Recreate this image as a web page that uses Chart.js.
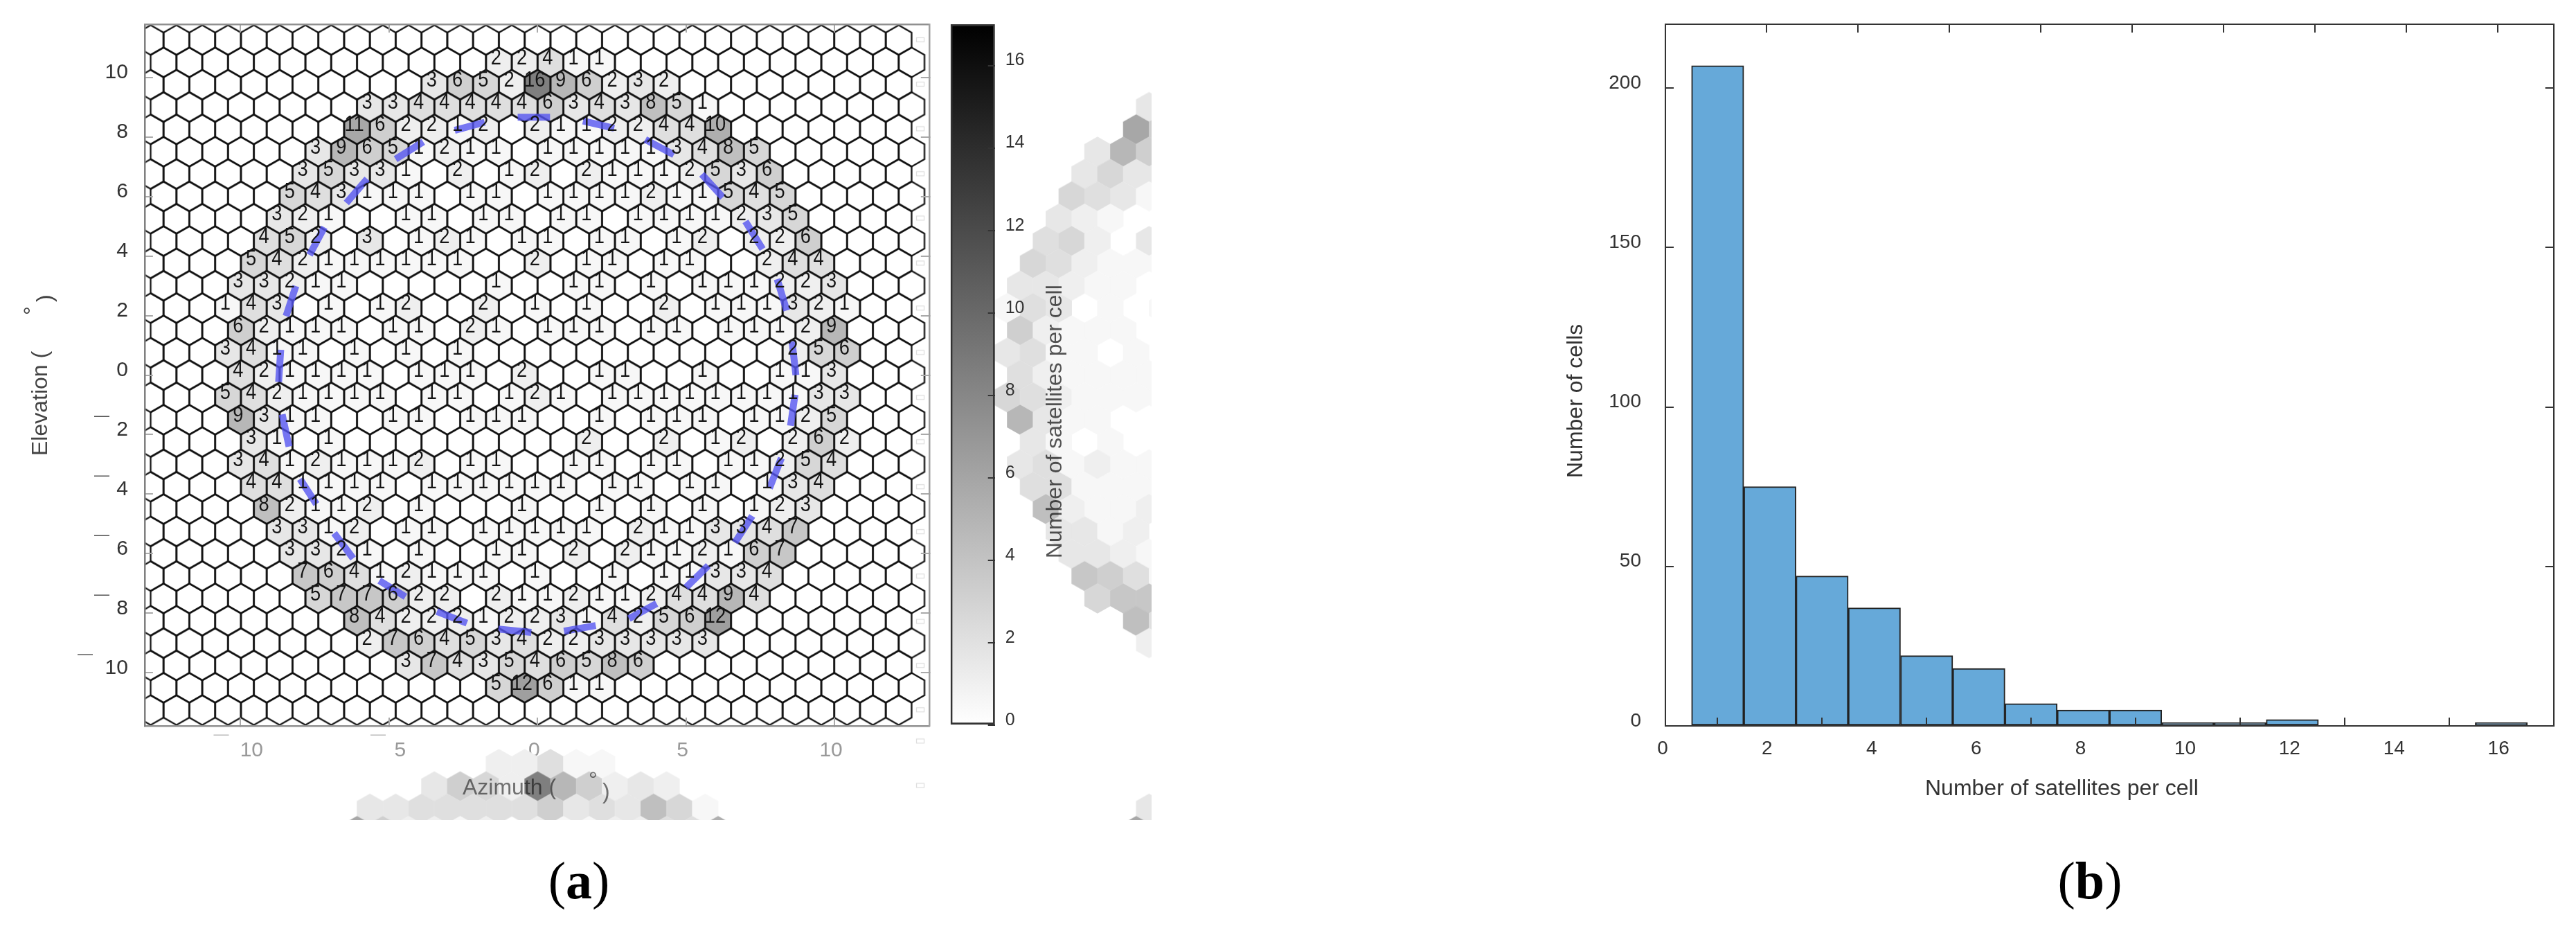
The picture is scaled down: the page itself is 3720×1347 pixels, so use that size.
<!DOCTYPE html>
<html>
<head>
<meta charset="utf-8">
<title>Satellites per cell</title>
<script src="https://cdn.jsdelivr.net/npm/chart.js@4"></script>
<style>
    html, body { margin: 0; background: #fff; }
    #page { position: relative; width: 3720px; height: 1347px; overflow: hidden; background: #fff; }
    canvas { position: absolute; }
    .panel { position: absolute; top: 1228px; font: 76px "Liberation Serif", serif; color: #000; width: 200px; text-align: center; }
</style>
</head>
<body>
<div id="page">
    <canvas id="hexChart" width="1663" height="1184" style="left:0;top:0"></canvas>
    <canvas id="barChart" width="323" height="1184" style="left:1340px;top:0"></canvas>
    <canvas id="histChart" width="1480" height="1200" style="left:2240px;top:0"></canvas>
    <div class="panel" style="left:736px">(<b>a</b>)</div>
    <div class="panel" style="left:2918px">(<b>b</b>)</div>
</div>
<script>
// ─── Data: hex map (a) ───
// one entry per occupied row, top to bottom: elevation, first column, cell counts
const rowElevations = [10.5, 9.75, 9, 8.25, 7.5, 6.75, 6, 5.25, 4.5, 3.75, 3, 2.25, 1.5, 0.75, 0, -0.75, -1.5, -2.25, -3, -3.75, -4.5, -5.25, -6, -6.75, -7.5, -8.25, -9, -9.75, -10.5];
const rowFirstCols = [-1.5, -4, -6.5, -7, -8.5, -9, -9.5, -10, -10.5, -11, -11.5, -12, -11.5, -12, -11.5, -12, -11.5, -11, -11.5, -11, -10.5, -10, -9.5, -9, -8.5, -7, -6.5, -5, -1.5];
const rowCounts = [
    [2, 2, 4, 1, 1],
    [3, 6, 5, 2, 16, 9, 6, 2, 3, 2],
    [3, 3, 4, 4, 4, 4, 4, 6, 3, 4, 3, 8, 5, 1],
    [11, 6, 2, 2, 1, 2, 0, 2, 1, 1, 2, 2, 4, 4, 10],
    [3, 9, 6, 5, 1, 2, 1, 1, 0, 1, 1, 1, 1, 1, 3, 4, 8, 5],
    [3, 5, 3, 3, 1, 0, 2, 0, 1, 2, 0, 2, 1, 1, 1, 2, 5, 3, 6],
    [5, 4, 3, 1, 1, 1, 0, 1, 1, 0, 1, 1, 1, 1, 2, 1, 1, 5, 4, 5],
    [3, 2, 1, 0, 0, 1, 1, 0, 1, 1, 0, 1, 1, 0, 1, 1, 1, 1, 2, 3, 5],
    [4, 5, 2, 0, 3, 0, 1, 2, 1, 0, 1, 1, 0, 1, 1, 0, 1, 2, 0, 2, 2, 6],
    [5, 4, 2, 1, 1, 1, 1, 1, 1, 0, 0, 2, 0, 1, 1, 0, 1, 1, 0, 0, 2, 4, 4],
    [3, 3, 2, 1, 1, 0, 0, 0, 0, 0, 1, 0, 0, 1, 1, 0, 1, 0, 1, 1, 1, 2, 2, 3],
    [1, 4, 3, 0, 1, 0, 1, 2, 0, 0, 2, 0, 1, 0, 1, 0, 0, 2, 0, 1, 1, 1, 3, 2, 1],
    [6, 2, 1, 1, 1, 0, 1, 1, 0, 2, 1, 0, 1, 1, 1, 0, 1, 1, 0, 1, 1, 1, 2, 9],
    [3, 4, 1, 1, 0, 1, 0, 1, 0, 1, 0, 0, 0, 0, 0, 0, 0, 0, 0, 0, 0, 0, 2, 5, 6],
    [4, 2, 1, 1, 1, 1, 0, 1, 1, 1, 0, 2, 0, 0, 1, 1, 0, 0, 1, 0, 0, 1, 1, 3],
    [5, 4, 2, 1, 1, 1, 1, 0, 1, 1, 0, 1, 2, 1, 0, 1, 1, 1, 1, 1, 1, 1, 1, 3, 3],
    [9, 3, 1, 1, 0, 0, 1, 1, 0, 1, 1, 1, 0, 0, 1, 0, 1, 1, 1, 0, 1, 1, 2, 5],
    [3, 1, 0, 1, 0, 0, 0, 0, 0, 0, 0, 0, 0, 2, 0, 0, 2, 0, 1, 2, 0, 2, 6, 2],
    [3, 4, 1, 2, 1, 1, 1, 2, 0, 1, 1, 0, 0, 1, 1, 0, 1, 1, 0, 1, 1, 2, 5, 4],
    [4, 4, 1, 1, 1, 1, 0, 1, 1, 1, 1, 1, 1, 0, 1, 1, 0, 1, 1, 0, 1, 3, 4],
    [8, 2, 1, 1, 2, 0, 1, 0, 0, 0, 1, 0, 0, 1, 0, 1, 0, 1, 0, 1, 2, 3],
    [3, 3, 1, 2, 0, 1, 1, 0, 1, 1, 1, 1, 1, 0, 2, 1, 1, 3, 3, 4, 7],
    [3, 3, 2, 1, 0, 1, 0, 0, 1, 1, 0, 2, 0, 2, 1, 1, 2, 1, 6, 7],
    [7, 6, 4, 1, 2, 1, 1, 1, 0, 1, 0, 0, 1, 0, 1, 1, 3, 3, 4],
    [5, 7, 7, 6, 2, 2, 0, 2, 1, 1, 2, 1, 1, 2, 4, 4, 9, 4],
    [8, 4, 2, 2, 2, 1, 2, 2, 3, 1, 4, 2, 5, 6, 12],
    [2, 7, 6, 4, 5, 3, 4, 2, 2, 3, 3, 3, 3, 3],
    [3, 7, 4, 3, 5, 4, 6, 5, 8, 6],
    [5, 12, 6, 1, 1],
];

// dashed ring, azimuth / elevation of each dash end, NaN breaks the line
const dashAzimuth = [-2.79, -1.78, NaN, -0.67, 0.42, NaN, 1.53, 2.58, NaN, 3.63, 4.59, NaN, 5.53, 6.24, NaN, 7.0, 7.58, NaN, 8.07, 8.39, NaN, 8.57, 8.70, NaN, 8.67, 8.52, NaN, 8.21, 7.81, NaN, 7.23, 6.65, NaN, 5.75, 5.0, NaN, 4.01, 3.08, NaN, 1.96, 0.89, NaN, -0.21, -1.32, NaN, -2.38, -3.39, NaN, -4.45, -5.33, NaN, -6.21, -6.85, NaN, -7.45, -8.0, NaN, -8.37, -8.60, NaN, -8.72, -8.65, NaN, -8.47, -8.14, NaN, -7.68, -7.18, NaN, -6.44, -5.74, NaN, -4.78, -3.85];
const dashElevation = [8.22, 8.49, NaN, 8.66, 8.66, NaN, 8.53, 8.29, NaN, 7.91, 7.40, NaN, 6.74, 5.97, NaN, 5.16, 4.23, NaN, 3.22, 2.17, NaN, 1.13, 0, NaN, -0.66, -1.70, NaN, -2.79, -3.80, NaN, -4.73, -5.62, NaN, -6.40, -7.13, NaN, -7.67, -8.18, NaN, -8.41, -8.60, NaN, -8.64, -8.53, NaN, -8.33, -7.94, NaN, -7.44, -6.90, NaN, -6.16, -5.31, NaN, -4.33, -3.49, NaN, -2.40, -1.32, NaN, -0.23, 0.85, NaN, 1.98, 2.99, NaN, 4.03, 4.96, NaN, 5.78, 6.59, NaN, 7.25, 7.83];

const azimuthTicks = [-10, -5, 0, 5, 10];
const elevationTicks = [-10, -8, -6, -4, -2, 0, 2, 4, 6, 8, 10];
const colorbarTicks = [0, 2, 4, 6, 8, 10, 12, 14, 16];
const colorbarMax = [17];
// stray light boxes down the right side of the map
const boxElevations = [11.26, 9.77, 8.27, 6.76, 5.27, 3.76, 2.25, 0.76, -0.75, -2.24, -3.75, -5.26, -6.75, -8.27, -9.75, -11.24, -12.29, -13.78];

// ─── Data: histogram (b) ───
const binCenters = [1, 2, 3, 4, 5, 6, 7, 8, 9, 10, 11, 12, 13, 14, 15, 16];
const binCounts = [207, 75, 47, 37, 22, 18, 7, 5, 5, 1, 1, 2, 0, 0, 0, 1];
const histXTicks = [2, 4, 6, 8, 10, 12, 14, 16];
const histYTicks = [0, 50, 100, 150, 200];

// ─── Hex grid ───
const COL_STEP = 0.8687;     // azimuth degrees between columns
const ROW_STEP = 0.75;       // elevation degrees between rows
const HEX_W = 37.25;         // px
const HEX_SIDE = 21.5;       // px
const GHOST_DX = 26.24;      // the map repeats once to the right and once below
const GHOST_DY = 23.56;

const cellValue = new Map();
rowElevations.forEach((el, r) => {
    rowCounts[r].forEach((v, i) => cellValue.set(el + '/' + (rowFirstCols[r] + i), v));
});

const allCells = [];
for (let k = 15; k >= -15; k--) {
    const odd = k % 2 !== 0;
    const first = odd ? -15 : -14.5;
    const last = odd ? 14 : 14.5;
    for (let c = first; c <= last; c++) {
        const el = k * ROW_STEP;
        allCells.push({ x: c * COL_STEP, y: el, v: cellValue.get(el + '/' + c) || 0 });
    }
}
const occupied = allCells.filter(c => c.v > 0);
const ghostCells = [];
[[GHOST_DX, 0], [0, -GHOST_DY], [GHOST_DX, -GHOST_DY]].forEach(([dx, dy]) => {
    occupied.forEach(c => ghostCells.push({ x: c.x + dx, y: c.y + dy, v: c.v }));
});

function hexPath(ctx, cx, cy, grow) {
    const hw = HEX_W / 2 + grow;
    const s = HEX_SIDE + grow;
    ctx.beginPath();
    ctx.moveTo(cx, cy - s);
    ctx.lineTo(cx + hw, cy - s / 2);
    ctx.lineTo(cx + hw, cy + s / 2);
    ctx.lineTo(cx, cy + s);
    ctx.lineTo(cx - hw, cy + s / 2);
    ctx.lineTo(cx - hw, cy - s / 2);
    ctx.closePath();
}

function hexImage(paint) {
    const img = document.createElement('canvas');
    img.width = 44;
    img.height = 50;
    paint(img.getContext('2d'));
    return img;
}

const grey = (v) => {
    const g = 255 - 8 * v;
    return `rgb(${g},${g},${g})`;
};
const fillImages = [];
for (let v = 0; v <= 17; v++) {
    fillImages.push(hexImage((c) => {
        hexPath(c, 22, 25, 0.3);
        c.fillStyle = grey(v);
        c.fill();
    }));
}
const outlineImage = hexImage((c) => {
    hexPath(c, 22, 25, 0);
    c.strokeStyle = '#111';
    c.lineWidth = 2.3;
    c.stroke();
});
const boxImage = (() => {
    const img = document.createElement('canvas');
    img.width = 14;
    img.height = 9;
    const c = img.getContext('2d');
    c.strokeStyle = '#ddd';
    c.lineWidth = 1.2;
    c.strokeRect(1.5, 1.5, 11, 6);
    return img;
})();

// ─── Shared helpers ───
Chart.defaults.font.family = '"Liberation Sans", Arial, sans-serif';
Chart.defaults.animation = false;
Chart.defaults.events = [];
Chart.defaults.devicePixelRatio = 1;
Chart.defaults.plugins.legend.display = false;
Chart.defaults.plugins.tooltip.enabled = false;

const tickList = (list) => (scale) => { scale.ticks = list.map(value => ({ value })); };

// force an axis box to a fixed size, so the plot area lands where it should
const fitBox = (size) => (scale) => {
    if (scale.isHorizontal()) scale.height = size;
    else scale.width = size;
    scale.paddingLeft = 0;
    scale.paddingRight = 0;
    scale.paddingTop = 0;
    scale.paddingBottom = 0;
};

function frameAxis(position, list, color, tickColor, tickLength, size) {
    return {
        type: 'linear',
        position,
        afterBuildTicks: tickList(list),
        afterFit: fitBox(size),
        border: { display: true, color, width: 2.5, z: 1 },
        grid: { drawOnChartArea: false, color: tickColor, lineWidth: 2, tickLength: -tickLength, z: 1 },
        ticks: { display: false, autoSkip: false },
    };
}

function putText(ctx, text, x, y, font, color, rotate, align) {
    ctx.save();
    ctx.translate(x, y);
    if (rotate) ctx.rotate(-Math.PI / 2);
    ctx.font = font;
    ctx.fillStyle = color;
    ctx.textAlign = align || 'left';
    ctx.textBaseline = 'alphabetic';
    ctx.fillText(text, 0, 0);
    ctx.restore();
}

// ─── Hex map (a) ───
const mapText = {
    id: 'mapText',
    afterDatasetsDraw(chart) {
        const { ctx } = chart;
        const xs = chart.scales.x;
        const ys = chart.scales.y;
        ctx.font = '31px "Liberation Sans"';
        ctx.fillStyle = '#151515';
        ctx.textAlign = 'center';
        ctx.textBaseline = 'middle';
        occupied.forEach((c) => {
            // the digits in the cells are a little condensed
            ctx.save();
            ctx.translate(xs.getPixelForValue(c.x) - 4, ys.getPixelForValue(c.y) - 6);
            ctx.scale(0.88, 1);
            ctx.fillText(String(c.v), 0, 0);
            ctx.restore();
        });
    },
    afterDraw(chart) {
        const { ctx } = chart;
        const xs = chart.scales.x;
        const ys = chart.scales.y;
        const dashFont = '22px "Liberation Sans"';
        // minus signs sit apart from their numbers
        elevationTicks.filter(v => v < 0).forEach((v) => {
            const mx = v === -10 ? 123 : 147;
            putText(ctx, '\u2014', mx, ys.getPixelForValue(v) - 20, dashFont, '#555', false, 'center');
        });
        azimuthTicks.filter(v => v < 0).forEach((v) => {
            const off = v === -10 ? -28 : -16;
            putText(ctx, '\u2014', xs.getPixelForValue(v) + off, 1067, dashFont, '#bbb', false, 'center');
        });

        ctx.save();
        ctx.globalCompositeOperation = 'multiply';
        const font = '32px "Liberation Sans"';
        const col = '#777';
        putText(ctx, 'Azimuth (', 668, 1147, font, col);
        putText(ctx, '\u00b0', 850, 1136, font, col);
        putText(ctx, ')', 870, 1153, font, col);
        putText(ctx, 'Number of satellites per cell', 1533, 806, font, '#555', true);
        ctx.restore();

        putText(ctx, 'Elevation (', 68, 658, font, '#444', true);
        putText(ctx, '\u00b0', 56, 455, font, '#444', true);
        putText(ctx, ')', 75, 436, font, '#444', true);
    },
};

new Chart(document.getElementById('hexChart'), {
    type: 'scatter',
    data: {
        datasets: [
            {
                label: 'Ring',
                order: 1,
                showLine: true,
                data: dashAzimuth.map((x, i) => ({ x, y: dashElevation[i] })),
                borderColor: 'rgba(85,85,240,0.8)',
                borderWidth: 10,
                borderCapStyle: 'butt',
                pointRadius: 0,
                spanGaps: false,
                clip: 0,
            },
            {
                label: 'Cell outlines',
                order: 2,
                data: allCells,
                pointStyle: outlineImage,
                pointRadius: 30,
                clip: 0,
            },
            {
                label: 'Boxes',
                order: 2.5,
                data: boxElevations.map(y => ({ x: 12.89, y })),
                pointStyle: boxImage,
                pointRadius: 2000,
                clip: false,
            },
            {
                label: 'Cells',
                order: 3,
                data: allCells,
                pointStyle: (ctx) => (ctx.raw ? fillImages[ctx.raw.v] : 'circle'),
                pointRadius: 30,
                clip: 0,
            },
            {
                label: 'Repeat',
                order: 4,
                data: ghostCells,
                pointStyle: (ctx) => (ctx.raw ? fillImages[ctx.raw.v] : 'circle'),
                pointRadius: 2000,
                clip: false,
            },
        ],
    },
    plugins: [mapText],
    options: {
        responsive: false,
        layout: { autoPadding: false, padding: { left: 0, top: 35, right: 321.2, bottom: 0 } },
        scales: {
            x: {
                ...frameAxis('bottom', azimuthTicks, '#909090', '#aaa', 12, 136),
                min: -13.232,
                max: 13.188,
                ticks: {
                    autoSkip: false,
                    maxRotation: 0,
                    padding: 30,
                    labelOffset: -5,
                    color: '#999',
                    font: { size: 30 },
                    callback: (v) => (v < 0 ? '     ' + Math.abs(v) : String(v)),
                },
            },
            y: {
                ...frameAxis('left', elevationTicks, '#808080', '#aaa', 12, 208.9),
                min: -11.78,
                max: 11.78,
                ticks: {
                    autoSkip: false,
                    padding: 36,
                    labelOffset: -7,
                    color: '#333',
                    font: { size: 30 },
                    callback: (v) => String(Math.abs(v)),
                },
            },
            x2: { ...frameAxis('top', azimuthTicks, '#909090', '#aaa', 12, 0), min: -13.232, max: 13.188 },
            y2: { ...frameAxis('right', elevationTicks, '#a0a0a0', '#aaa', 12, 0), min: -11.78, max: 11.78 },
        },
    },
});

// ─── Colorbar ───
new Chart(document.getElementById('barChart'), {
    type: 'bar',
    data: {
        labels: [''],
        datasets: [{
            data: colorbarMax,
            backgroundColor: (ctx) => {
                const area = ctx.chart.chartArea;
                if (!area) return '#888';
                const g = ctx.chart.ctx.createLinearGradient(0, area.bottom, 0, area.top);
                g.addColorStop(0, '#ffffff');
                g.addColorStop(1, '#000000');
                return g;
            },
            borderColor: '#333',
            borderWidth: 3,
            borderSkipped: false,
            barPercentage: 1,
            categoryPercentage: 1,
        }],
    },
    options: {
        responsive: false,
        layout: { padding: { left: 32.7, top: 35, right: 0, bottom: 137 } },
        scales: {
            x: { display: false },
            y: {
                type: 'linear',
                position: 'right',
                min: 0,
                max: 17,
                afterBuildTicks: tickList(colorbarTicks),
                afterFit: fitBox(226.3),
                border: { display: false },
                grid: { drawOnChartArea: false, color: '#333', lineWidth: 2, tickLength: -10, z: 1 },
                ticks: { autoSkip: false, padding: 25, labelOffset: -7, color: '#333', font: { size: 25 } },
            },
        },
    },
});

// ─── Histogram (b) ───
const histTitles = {
    id: 'histTitles',
    afterDraw(chart) {
        const font = '32px "Liberation Sans"';
        putText(chart.ctx, 'Number of satellites per cell', 540, 1148, font, '#333');
        putText(chart.ctx, 'Number of cells', 45, 690, font, '#333', true);
    },
};

new Chart(document.getElementById('histChart'), {
    type: 'bar',
    plugins: [histTitles],
    data: {
        datasets: [{
            data: binCenters.map((x, i) => ({ x, y: binCounts[i] })),
            backgroundColor: '#66a9d9',
            borderColor: '#222',
            borderWidth: 2,
            borderSkipped: false,
            barPercentage: 1,
            categoryPercentage: 1,
        }],
    },
    options: {
        responsive: false,
        layout: { padding: { left: 0, top: 35, right: 32.4, bottom: 0 } },
        scales: {
            x: {
                type: 'linear',
                position: 'bottom',
                min: 0,
                max: 17,
                offset: false,
                afterBuildTicks: tickList([0].concat(histXTicks)),
                afterFit: fitBox(152),
                border: { display: true, color: '#333', width: 2, z: 1 },
                grid: { drawOnChartArea: false, color: '#333', lineWidth: 2, tickLength: -12, z: 1 },
                ticks: { autoSkip: false, maxRotation: 0, padding: 28, labelOffset: -4, color: '#333', font: { size: 28 } },
            },
            y: {
                type: 'linear',
                position: 'left',
                min: 0,
                max: 220,
                afterBuildTicks: tickList(histYTicks),
                afterFit: fitBox(165),
                border: { display: true, color: '#333', width: 2, z: 1 },
                grid: { drawOnChartArea: false, color: '#333', lineWidth: 2, tickLength: -12, z: 1 },
                ticks: { autoSkip: false, padding: 47, labelOffset: -7, color: '#333', font: { size: 28 } },
            },
            x2: { ...frameAxis('top', histXTicks, '#333', '#333', 12, 0), min: 0, max: 17, border: { display: true, color: '#333', width: 2, z: 1 } },
            y2: { ...frameAxis('right', histYTicks, '#333', '#333', 12, 0), min: 0, max: 220, border: { display: true, color: '#333', width: 2, z: 1 } },
        },
    },
});
</script>
</body>
</html>
